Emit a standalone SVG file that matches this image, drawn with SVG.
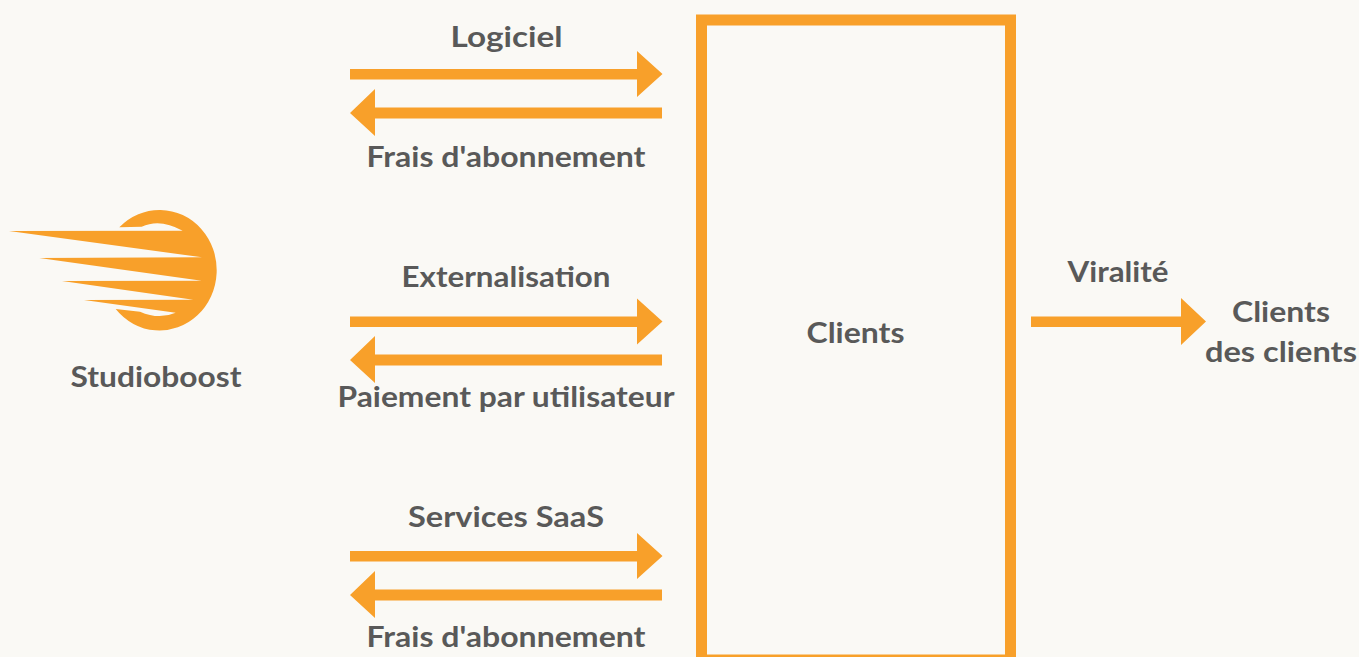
<svg xmlns="http://www.w3.org/2000/svg" width="1359" height="657" viewBox="0 0 1359 657">
<style>
text{font-family:"Lato","Open Sans","Liberation Sans",sans-serif;font-weight:700;font-size:28px;fill:#595959;text-anchor:middle}
.a{fill:#f8a02a}
</style>
<defs>
<path id="r" class="a" d="M350 69H637V51L662.500 74 637 97V79.500H350Z"/>
<path id="l" class="a" d="M662 107.500H375V89L350 113 375 136V118.500H662Z"/>
</defs>
<rect width="1359" height="657" fill="#faf9f5"/>
<g id="studioboost">
<path class="a" d="M119.300 227.300A57.200 60.300 0 1 1 115.700 309L140 311.700Q159 320 175.700 312.700L84 300 193.300 299.700 62 281 201.700 280.700 39.300 258 202 257.300 9 231 182.700 230.700Q160 218 141.700 226.700Z"/>
<text x="156" y="387" textLength="171" lengthAdjust="spacingAndGlyphs">Studioboost</text>
</g>
<g id="clients">
<rect x="701.500" y="20" width="309" height="640" fill="none" stroke="#f8a02a" stroke-width="11"/>
<text x="855.500" y="343" textLength="98" lengthAdjust="spacingAndGlyphs">Clients</text>
</g>
<g id="clients-des-clients">
<text x="1281" y="322" textLength="98" lengthAdjust="spacingAndGlyphs">Clients</text>
<text x="1281" y="362" textLength="152" lengthAdjust="spacingAndGlyphs">des clients</text>
</g>
<g id="connectors">
<use href="#r"/><use href="#l"/>
<use href="#r" y="247.500"/><use href="#l" y="247"/>
<use href="#r" y="482"/><use href="#l" y="482"/>
<path class="a" d="M1031 316.500H1181V298L1206 321.500 1181 345V327H1031Z"/>
</g>
<g id="labels">
<text x="506.500" y="47" textLength="112" lengthAdjust="spacingAndGlyphs">Logiciel</text>
<text x="506" y="167" textLength="279" lengthAdjust="spacingAndGlyphs">Frais d'abonnement</text>
<text x="506" y="287" textLength="209" lengthAdjust="spacingAndGlyphs">Externalisation</text>
<text x="506" y="407" textLength="337" lengthAdjust="spacingAndGlyphs">Paiement par utilisateur</text>
<text x="506" y="527" textLength="196" lengthAdjust="spacingAndGlyphs">Services SaaS</text>
<text x="506" y="647" textLength="279" lengthAdjust="spacingAndGlyphs">Frais d'abonnement</text>
<text x="1118" y="282" textLength="101" lengthAdjust="spacingAndGlyphs">Viralité</text>
</g>
</svg>
